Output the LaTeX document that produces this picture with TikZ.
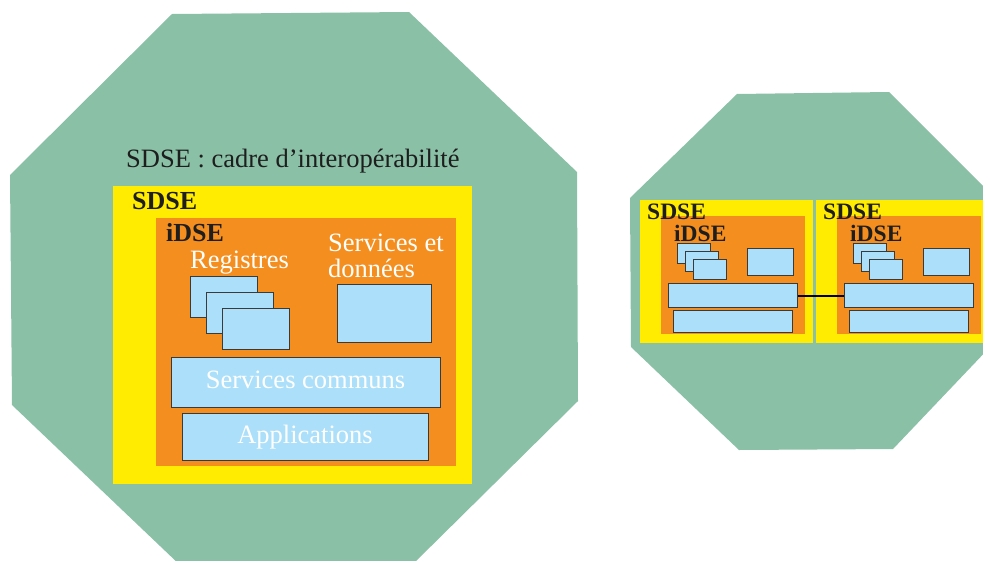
\documentclass[tikz,border=0pt]{standalone}
\usepackage{fontspec}
\setmainfont{Liberation Serif}

\definecolor{sage}{HTML}{8AC0A6}
\definecolor{signyellow}{HTML}{FFEC00}
\definecolor{deeporange}{HTML}{F48E1F}
\definecolor{paleblue}{HTML}{ACDFF9}
\definecolor{edgegray}{HTML}{3A3A3A}
\definecolor{inkdark}{HTML}{1E1E1E}

\tikzset{
  panel/.style={fill=#1, draw=none, inner sep=0pt, outer sep=0pt, anchor=north west},
  bluebox/.style={fill=paleblue, draw=edgegray, line width=1.2pt, inner sep=0pt, anchor=north west},
  lab/.style={inner sep=0pt, anchor=base west},
  bigbold/.style={lab, text=inkdark, font=\fontsize{26}{30}\selectfont\bfseries},
  smallbold/.style={lab, text=inkdark, font=\fontsize{23.5}{27}\selectfont\bfseries},
  whitetext/.style={inner sep=0pt, text=white, font=\fontsize{26.5}{30}\selectfont},
  link/.style={draw=black, line width=2pt},
}

% one small SDSE/iDSE unit; #1 = name prefix, #2 = horizontal shift
\newcommand\dseunit[2]{%
  \begin{scope}[xshift=#2]
    \node[panel=signyellow, minimum width=173pt, minimum height=143pt] (#1yel) at (640,200) {};
    \node[panel=deeporange, minimum width=144pt, minimum height=118pt] (#1org) at (661,216) {};
    \node[smallbold] (#1sdse) at (647,219) {SDSE};
    \node[smallbold] (#1idse) at (674,241) {iDSE};
    \node[bluebox, minimum width=32.5pt, minimum height=20pt] (#1rega) at (677,243) {};
    \node[bluebox, minimum width=32.5pt, minimum height=20pt] (#1regb) at (685,251) {};
    \node[bluebox, minimum width=32.5pt, minimum height=20pt] (#1regc) at (693,259) {};
    \node[bluebox, minimum width=46pt, minimum height=27pt] (#1serv) at (747,248) {};
    \node[bluebox, minimum width=129pt, minimum height=24pt] (#1comm) at (668,283) {};
    \node[bluebox, minimum width=119pt, minimum height=22pt] (#1apps) at (673,310) {};
  \end{scope}}

\begin{document}
\begin{tikzpicture}[x=1pt, y=-1pt]
\path[use as bounding box] (0,0) rectangle (983,560);
\begin{scope}
\clip (0,0) rectangle (983,560);

% the two octagonal frameworks
\fill[sage] (172,14) -- (409,12) -- (577,172) -- (578,401) -- (411,566)
  -- (181,566) -- (12,405) -- (10,175) -- cycle;
\fill[sage] (737,94) -- (889,92) -- (995,198) -- (990,347) -- (893,449)
  -- (739,450) -- (631,347) -- (630,198) -- cycle;

% large framework
\node[lab, text=inkdark, font=\fontsize{26.5}{30}\selectfont] (frame) at (126,167)
  {SDSE : cadre d’interopérabilité};
\node[panel=signyellow, minimum width=359pt, minimum height=298pt] (yel) at (113,186) {};
\node[panel=deeporange, minimum width=300pt, minimum height=248pt] (org) at (156,218) {};
\node[bigbold] (sdse) at (132,209) {SDSE};
\node[bigbold] (idse) at (166,241) {iDSE};
\node[whitetext, anchor=base west] (reglab) at (190,268) {Registres};
\node[whitetext, anchor=base west] (servlab) at (328,251) {Services et};
\node[whitetext, anchor=base west] (donlab) at (328,277) {données};
\node[bluebox, minimum width=67pt, minimum height=41pt] (rega) at (190,276) {};
\node[bluebox, minimum width=67pt, minimum height=41pt] (regb) at (206,292) {};
\node[bluebox, minimum width=67pt, minimum height=41pt] (regc) at (222,308) {};
\node[bluebox, minimum width=94pt, minimum height=58pt] (serv) at (337,284) {};
\node[bluebox, minimum width=269pt, minimum height=50pt] (comm) at (171,357) {};
\node[bluebox, minimum width=246pt, minimum height=47pt] (apps) at (182,413) {};
\node[whitetext, anchor=base] (commlab) at (305.5,388) {Services communs};
\node[whitetext, anchor=base] (appslab) at (305,443) {Applications};

% two linked frameworks
\dseunit{a}{0}
\dseunit{b}{176}
\draw[link] (acomm.east) -- (bcomm.west);
\end{scope}
\end{tikzpicture}
\end{document}
